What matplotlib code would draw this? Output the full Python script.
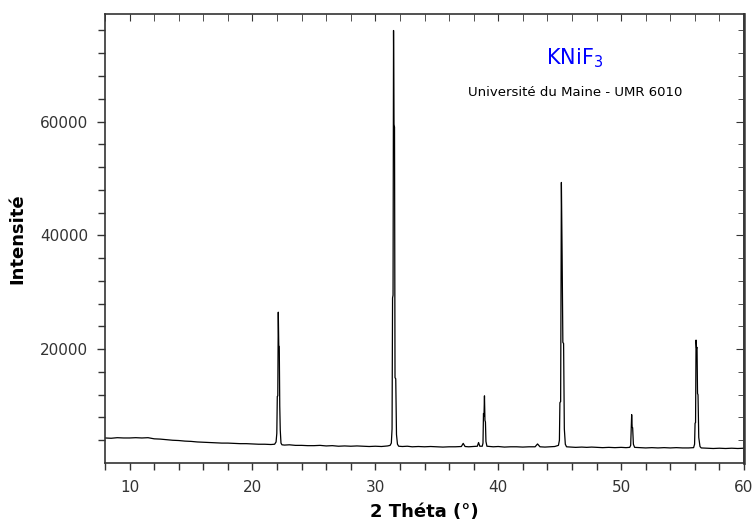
import matplotlib
matplotlib.use("Agg")
import matplotlib.pyplot as plt
from matplotlib.ticker import MultipleLocator, FixedLocator

# 2 theta (deg) / intensity
two_theta = [
    8.0, 8.5, 9.0, 9.5, 10.0, 10.5, 11.0, 11.5, 12.0, 12.5, 13.0, 13.5,
    14.0, 14.5, 15.0, 15.5, 16.0, 16.5, 17.0, 17.5, 18.0, 18.5, 19.0, 19.5,
    20.0, 20.5, 21.0, 21.5,
    21.80, 21.92, 21.98, 22.02, 22.06, 22.10, 22.14, 22.18, 22.22, 22.26, 22.32, 22.40,
    22.6, 23.0, 23.5, 24.0, 24.5, 25.0, 25.5, 26.0, 26.5, 27.0, 27.5, 28.0,
    28.5, 29.0, 29.5, 30.0, 30.5, 31.0,
    31.20, 31.30, 31.36, 31.40, 31.44, 31.48, 31.52, 31.56, 31.60, 31.66, 31.72, 31.80, 31.90,
    32.2, 32.6, 33.0, 33.5, 34.0, 34.5, 35.0, 35.5, 36.0, 36.5, 37.0, 37.15,
    37.3, 37.6, 38.0, 38.3, 38.4, 38.5,
    38.70, 38.76, 38.80, 38.84, 38.88, 38.92, 38.96, 39.00, 39.08,
    39.3, 39.6, 40.0, 40.5, 41.0, 41.5, 42.0, 42.5, 43.0, 43.2, 43.4, 43.8,
    44.2, 44.6,
    44.90, 44.98, 45.02, 45.08, 45.14, 45.20, 45.26, 45.32, 45.38, 45.46, 45.56,
    45.9, 46.3, 46.8, 47.2, 47.6, 48.0, 48.5, 49.0, 49.5, 50.0, 50.4,
    50.70, 50.78, 50.82, 50.86, 50.90, 50.94, 51.00, 51.10,
    51.5, 52.0, 52.5, 53.0, 53.5, 54.0, 54.5, 55.0, 55.5,
    55.90, 55.98, 56.02, 56.06, 56.10, 56.14, 56.18, 56.22, 56.26, 56.32, 56.42, 56.52,
    57.0, 57.5, 58.0, 58.5, 59.0, 59.5, 60.0,
]
intensity = [
    4400, 4350, 4450, 4400, 4400, 4450, 4400, 4450, 4250, 4200, 4100, 4000,
    3950, 3850, 3800, 3700, 3650, 3600, 3550, 3500, 3500, 3450, 3400, 3400,
    3350, 3300, 3300, 3250,
    3300, 3700, 5200, 11700, 11800, 26500, 20600, 20500, 10000, 5800, 3500, 3200,
    3150, 3200, 3100, 3100, 3050, 3050, 3100, 3000, 3050, 2950, 3000, 2950,
    3000, 2950, 2900, 2950, 2900, 3000,
    3100, 3500, 6000, 29000, 29500, 76000, 59500, 59000, 15000, 14800, 5000, 3300, 2950,
    2900, 2950, 2850, 2900, 2850, 2900, 2850, 2800, 2850, 2850, 2900, 3450,
    2900, 2850, 2900, 2950, 3600, 2950,
    2950, 3500, 8700, 8200, 11800, 7500, 7200, 3800, 2950,
    2900, 2850, 2900, 2800, 2850, 2850, 2800, 2850, 2850, 3350, 2850, 2800,
    2850, 2900,
    3100, 4000, 10600, 10800, 49300, 36400, 21200, 21000, 6000, 3300, 2850,
    2800, 2750, 2800, 2750, 2800, 2750, 2700, 2750, 2700, 2750, 2700,
    2750, 3100, 5800, 8500, 6300, 6200, 3300, 2750,
    2700, 2650, 2700, 2650, 2700, 2650, 2700, 2650, 2650,
    2700, 3300, 7000, 7100, 21600, 20200, 20300, 12200, 12000, 4500, 2900, 2650,
    2600, 2550, 2600, 2550, 2600, 2550, 2600,
]

y_major = [20000, 40000, 60000]
y_minor = [4000, 8000, 12000, 16000, 24000, 28000, 32000, 36000, 44000,
           48000, 52000, 56000, 64000, 68000, 72000, 76000]

title = "KNiF$_3$"
subtitle = "Université du Maine - UMR 6010"

fig = plt.figure(figsize=(7.54, 5.22), dpi=100)
ax = fig.add_axes([0.1393, 0.1130, 0.8474, 0.8602])

ax.plot(two_theta, intensity, color="black", linewidth=0.9)

ax.set_xlim(8, 60)
ax.set_ylim(0, 78900)
ax.xaxis.set_major_locator(MultipleLocator(10))
ax.xaxis.set_minor_locator(MultipleLocator(2))
ax.yaxis.set_major_locator(FixedLocator(y_major))
ax.yaxis.set_minor_locator(FixedLocator(y_minor))

ax.tick_params(axis="both", which="both", direction="out", colors="#333333",
               labelsize=11, width=1)
ax.tick_params(axis="x", which="major", length=5, pad=7)
ax.tick_params(axis="x", which="minor", length=5)
ax.tick_params(axis="y", which="major", length=6, pad=6)
ax.tick_params(axis="y", which="minor", length=5)

# inward ticks on top and right
top = ax.secondary_xaxis("top")
top.xaxis.set_major_locator(MultipleLocator(10))
top.xaxis.set_minor_locator(MultipleLocator(2))
top.tick_params(which="both", direction="in", length=5, labeltop=False, colors="#333333")
right = ax.secondary_yaxis("right")
right.yaxis.set_major_locator(FixedLocator(y_major))
right.yaxis.set_minor_locator(FixedLocator(y_minor))
right.tick_params(which="major", direction="in", length=6, labelright=False, colors="#333333")
right.tick_params(which="minor", direction="in", length=4, labelright=False, colors="#333333")

for s in ax.spines.values():
    s.set_color("#333333")
    s.set_linewidth(1.2)
top.spines["top"].set_visible(False)
right.spines["right"].set_color("#555555")
right.spines["right"].set_linewidth(2)

ax.set_xlabel("2 Théta (°)", fontsize=13, fontweight="bold", labelpad=6)
ax.set_ylabel("Intensité", fontsize=13, fontweight="bold", labelpad=10)

ax.text(0.7355, 0.902, title, transform=ax.transAxes, color="#0000ff",
        fontsize=15, ha="center", va="center")
ax.text(0.7355, 0.826, subtitle, transform=ax.transAxes, color="black",
        fontsize=9.5, ha="center", va="center")

fig.savefig("out.png", dpi=100)
